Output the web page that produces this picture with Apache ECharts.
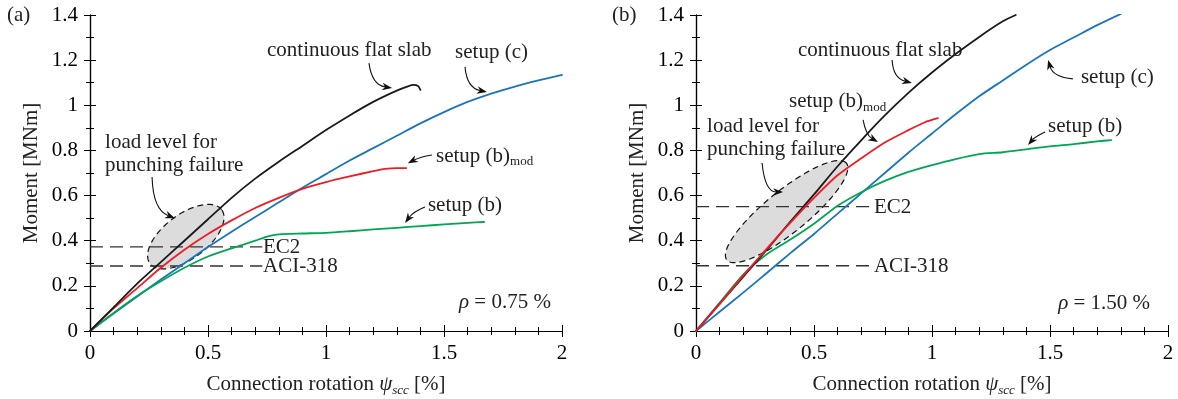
<!DOCTYPE html>
<html><head><meta charset="utf-8">
<script src="https://cdn.jsdelivr.net/npm/echarts@6/dist/echarts.min.js"></script>
<style>html,body{margin:0;padding:0;background:#fff}#c{width:1178px;height:399px}</style>
</head><body><div id="c"></div>
<script>
// ---------- DATA (rotation psi_scc [%], moment [MNm]) ----------
// Panel (a): rho = 0.75 %
const slabA = [[0,0],[0.1,0.105],[0.2,0.21],[0.3,0.305],[0.4,0.40],[0.5,0.495],[0.6,0.59],[0.7,0.675],[0.8,0.75],[0.9,0.82],[1.0,0.89],[1.1,0.955],[1.2,1.015],[1.3,1.065],[1.35,1.085],[1.37,1.09],[1.39,1.085],[1.40,1.068]];
const setupCA = [[0,0],[0.1,0.077],[0.2,0.153],[0.3,0.228],[0.4,0.30],[0.5,0.372],[0.6,0.44],[0.7,0.505],[0.8,0.57],[0.9,0.635],[1.0,0.695],[1.1,0.755],[1.2,0.81],[1.3,0.865],[1.4,0.92],[1.5,0.97],[1.6,1.015],[1.7,1.052],[1.8,1.083],[1.9,1.11],[2.0,1.135]];
const setupBmodA = [[0,0],[0.1,0.10],[0.2,0.19],[0.3,0.28],[0.4,0.36],[0.5,0.43],[0.6,0.49],[0.7,0.545],[0.8,0.59],[0.9,0.63],[1.0,0.66],[1.1,0.685],[1.2,0.708],[1.25,0.718],[1.3,0.722],[1.34,0.722]];
const setupBA = [[0,0],[0.1,0.08],[0.2,0.155],[0.3,0.22],[0.4,0.28],[0.5,0.33],[0.6,0.366],[0.7,0.40],[0.75,0.418],[0.8,0.428],[0.9,0.432],[1.0,0.435],[1.1,0.442],[1.2,0.45],[1.3,0.457],[1.4,0.465],[1.5,0.472],[1.6,0.479],[1.67,0.483]];
const ec2A = [[0,0.373],[0.73,0.373]];
const aciA = [[0,0.288],[0.73,0.288]];

// Panel (b): rho = 1.50 %
const slabB = [[0,0],[0.1,0.12],[0.2,0.24],[0.3,0.36],[0.4,0.485],[0.5,0.605],[0.6,0.73],[0.7,0.845],[0.8,0.955],[0.9,1.055],[1.0,1.145],[1.1,1.227],[1.2,1.303],[1.3,1.372],[1.355,1.40]];
const setupCB = [[0,0],[0.1,0.085],[0.2,0.17],[0.3,0.257],[0.4,0.345],[0.5,0.43],[0.6,0.52],[0.7,0.61],[0.8,0.70],[0.9,0.79],[1.0,0.875],[1.1,0.96],[1.2,1.04],[1.3,1.11],[1.4,1.18],[1.5,1.245],[1.6,1.30],[1.7,1.355],[1.8,1.405]];
const setupBmodB = [[0,0],[0.1,0.12],[0.2,0.245],[0.3,0.365],[0.4,0.48],[0.5,0.59],[0.6,0.69],[0.7,0.765],[0.8,0.835],[0.9,0.89],[0.97,0.925],[1.025,0.943]];
const setupBB = [[0,0],[0.1,0.125],[0.2,0.25],[0.3,0.34],[0.4,0.405],[0.5,0.475],[0.6,0.555],[0.7,0.615],[0.8,0.665],[0.9,0.705],[1.0,0.735],[1.1,0.762],[1.2,0.784],[1.3,0.792],[1.4,0.805],[1.5,0.818],[1.6,0.828],[1.7,0.84],[1.76,0.846]];
const ec2B = [[0,0.551],[0.735,0.551]];
const aciB = [[0,0.289],[0.735,0.289]];

// Axis ticks
const xRange = [0, 2], xStep = 0.5;
const yRange = [0, 1.4], yStep = 0.2;

// Annotation ellipses (data units: center, semi-axes in x-units, angle deg)
const ellipseA = {center:[0.406,0.418], radii:[0.19,0.094], angle:37};
const ellipseB = {center:[0.384,0.529], radii:[0.326,0.089], angle:39};

// Annotation arrows: [startX,startY, ctrlX,ctrlY, tipX,tipY]
const arrowsA = [
  [1.182,1.187, 1.195,1.09, 1.28,1.077],
  [1.589,1.170, 1.597,1.077, 1.682,1.059],
  [1.449,0.780, 1.398,0.771, 1.347,0.7435],
  [1.419,0.549, 1.369,0.527, 1.335,0.479],
  [0.263,0.682, 0.267,0.536, 0.360,0.50]
];
const arrowsB = [
  [0.831,1.201, 0.835,1.121, 0.915,1.099],
  [1.597,1.117, 1.513,1.125, 1.492,1.201],
  [0.708,0.935, 0.72,0.868, 0.771,0.837],
  [1.479,0.882, 1.436,0.86, 1.407,0.824],
  [0.28,0.744, 0.292,0.616, 0.369,0.616]
];
// Annotation texts: [x, y, text, align]
const textsA = [
  [0.75,1.245,'continuous flat slab','left'],
  [1.547,1.236,'setup (c)','left'],
  [1.466,0.775,'setup (b){s|mod}','left'],
  [1.432,0.558,'setup (b)','left'],
  [0.064,0.833,'load level for','left'],
  [0.064,0.735,'punching failure','left'],
  [0.733,0.372,'EC2','left'],
  [0.733,0.288,'ACI-318','left'],
  [1.953,0.128,'{i|ρ} = 0.75 %','right']
];
const textsB = [
  [0.432,1.245,'continuous flat slab','left'],
  [1.631,1.125,'setup (c)','left'],
  [0.394,1.015,'setup (b){s|mod}','left'],
  [1.492,0.904,'setup (b)','left'],
  [0.047,0.904,'load level for','left'],
  [0.047,0.802,'punching failure','left'],
  [0.754,0.548,'EC2','left'],
  [0.754,0.288,'ACI-318','left'],
  [1.924,0.124,'{i|ρ} = 1.50 %','right']
];

// ---------- STYLE ----------
const FONT = '"Liberation Serif","Times New Roman",serif';
const TXT = '#222';
const C_BLACK = '#1a1a1a', C_BLUE = '#1b75bc', C_RED = '#ee1c25', C_GREEN = '#00a651';
const RICH = {
  s: {fontSize: 13, fontFamily: FONT, color: TXT, fill: TXT, padding: [12,0,0,0]},
  i: {fontSize: 21, fontFamily: FONT, color: TXT, fill: TXT, fontStyle: 'italic'}
};

const chart = echarts.init(document.getElementById('c'), null, {renderer: 'canvas'});

function mainX(gi) {
  return {
    gridIndex: gi, type: 'value', min: xRange[0], max: xRange[1], interval: xStep,
    position: 'bottom',
    axisLine: {lineStyle: {color: '#000', width: 1.2}},
    axisTick: {inside: true, length: 6, lineStyle: {color: '#000', width: 1}},
    minorTick: {show: true, splitNumber: 5, length: 4, lineStyle: {color: '#000', width: 1}},
    splitLine: {show: false},
    axisLabel: {color: '#000', fontSize: 21, fontFamily: FONT, margin: 12},
    name: 'Connection rotation {i|ψ}{s|scc} [%]',
    nameLocation: 'middle', nameGap: 41,
    nameTextStyle: {color: TXT, fontSize: 21, fontFamily: FONT,
      rich: {i: {fontSize: 21, fontFamily: FONT, color: TXT, fontStyle: 'italic'},
             s: {fontSize: 13, fontFamily: FONT, color: TXT, fontStyle: 'italic', padding: [12,0,0,0]}}}
  };
}
function frameX(gi) {
  return {
    gridIndex: gi, type: 'value', min: xRange[0], max: xRange[1], interval: xStep, position: 'top',
    axisLine: {lineStyle: {color: '#000', width: 1.2}},
    axisTick: {inside: true, length: 6, lineStyle: {color: '#000'}},
    minorTick: {show: true, splitNumber: 5, length: 4, lineStyle: {color: '#000'}},
    splitLine: {show: false}, axisLabel: {show: false}
  };
}
function mainY(gi) {
  return {
    gridIndex: gi, type: 'value', min: yRange[0], max: yRange[1], interval: yStep, position: 'left',
    axisLine: {show: true, lineStyle: {color: '#000', width: 1.2}},
    axisTick: {show: true, inside: true, length: 6, lineStyle: {color: '#000'}},
    minorTick: {show: true, splitNumber: 2, length: 4, lineStyle: {color: '#000'}},
    splitLine: {show: false},
    axisLabel: {color: '#000', fontSize: 21, fontFamily: FONT, margin: 12},
    name: 'Moment [MNm]', nameLocation: 'middle', nameRotate: 90, nameGap: 48,
    nameTextStyle: {color: TXT, fontSize: 21, fontFamily: FONT}
  };
}
function frameY(gi) {
  return {
    gridIndex: gi, type: 'value', min: yRange[0], max: yRange[1], interval: yStep, position: 'right',
    axisLine: {show: true, lineStyle: {color: '#000', width: 1.2}},
    axisTick: {show: true, inside: true, length: 6, lineStyle: {color: '#000'}},
    minorTick: {show: true, splitNumber: 2, length: 4, lineStyle: {color: '#000'}},
    splitLine: {show: false}, axisLabel: {show: false}
  };
}

function lineSeries(data, color, xi, yi, z) {
  return {type: 'line', data: data, xAxisIndex: xi, yAxisIndex: yi, showSymbol: false, symbol: 'none',
    smooth: 0.25, lineStyle: {color: color, width: 1.8, join: 'round', cap: 'round'}, z: z || 5, silent: true, animation: false};
}
function dashSeries(data, xi, yi) {
  return {type: 'line', data: data, xAxisIndex: xi, yAxisIndex: yi, showSymbol: false, symbol: 'none',
    lineStyle: {color: '#333', width: 1.3, type: [13, 7]}, z: 4, silent: true, animation: false};
}
function ellipseSeries(e, xi, yi) {
  return {type: 'custom', xAxisIndex: xi, yAxisIndex: yi, z: 2, silent: true, animation: false, clip: false,
    data: [[e.center[0], e.center[1]]], encode: {x: 0, y: 1},
    renderItem: function (params, api) {
      const c = api.coord(e.center);
      const s = api.size([1, 1]);
      const a = e.radii[0] * s[0], b = e.radii[1] * s[0];
      const th = e.angle * Math.PI / 180;
      const pts = [];
      for (let i = 0; i < 96; i++) {
        const t = i / 96 * 2 * Math.PI;
        const ex = a * Math.cos(t), ey = b * Math.sin(t);
        pts.push([c[0] + ex * Math.cos(th) - ey * Math.sin(th), c[1] - (ex * Math.sin(th) + ey * Math.cos(th))]);
      }
      return {type: 'polygon', shape: {points: pts},
        style: {fill: '#dcdcdc', stroke: '#111', lineWidth: 1.2, lineDash: [6, 4]}};
    }};
}
function arrowSeries(list, xi, yi) {
  return {type: 'custom', xAxisIndex: xi, yAxisIndex: yi, z: 8, silent: true, animation: false, clip: false,
    data: list.map(a => [a[4], a[5]]), encode: {x: 0, y: 1},
    renderItem: function (params, api) {
      const a = list[params.dataIndex];
      const p0 = api.coord([a[0], a[1]]), p1 = api.coord([a[2], a[3]]), p2 = api.coord([a[4], a[5]]);
      const dx = p2[0] - p1[0], dy = p2[1] - p1[1], L = Math.hypot(dx, dy) || 1;
      const ux = dx / L, uy = dy / L, hl = 10, hw = 3.8;
      const base = [p2[0] - ux * hl, p2[1] - uy * hl];
      const notch = [p2[0] - ux * hl * 0.7, p2[1] - uy * hl * 0.7];
      return {type: 'group', children: [
        {type: 'bezierCurve', shape: {x1: p0[0], y1: p0[1], cpx1: p1[0], cpy1: p1[1], x2: notch[0], y2: notch[1]},
          style: {stroke: '#111', fill: 'none', lineWidth: 1.1}},
        {type: 'polygon', shape: {points: [p2, [base[0] - uy * hw, base[1] + ux * hw], notch, [base[0] + uy * hw, base[1] - ux * hw]]},
          style: {fill: '#111'}}
      ]};
    }};
}
function textSeries(list, xi, yi) {
  return {type: 'custom', xAxisIndex: xi, yAxisIndex: yi, z: 9, silent: true, animation: false, clip: false,
    data: list.map(t => [t[0], t[1]]), encode: {x: 0, y: 1},
    renderItem: function (params, api) {
      const t = list[params.dataIndex];
      const p = api.coord([t[0], t[1]]);
      return {type: 'text', x: p[0], y: p[1],
        style: {text: t[2], fontSize: 21, fontFamily: FONT, fill: TXT, align: t[3], verticalAlign: 'middle', rich: RICH}};
    }};
}

const option = {
  animation: false,
  backgroundColor: '#fff',
  grid: [
    {left: 90, top: 15, width: 472, height: 316, outerBoundsMode: 'none', containLabel: false},
    {left: 696, top: 15, width: 472, height: 316, outerBoundsMode: 'none', containLabel: false}
  ],
  xAxis: [mainX(0), frameX(0), mainX(1), frameX(1)],
  yAxis: [mainY(0), frameY(0), mainY(1), frameY(1)],
  graphic: [
    {type: 'text', left: 7, top: 5, style: {text: '(a)', fontSize: 21, fontFamily: FONT, fill: TXT}},
    {type: 'text', left: 612, top: 5, style: {text: '(b)', fontSize: 21, fontFamily: FONT, fill: TXT}}
  ],
  series: [
    ellipseSeries(ellipseA, 0, 0),
    dashSeries(ec2A, 0, 0), dashSeries(aciA, 0, 0),
    lineSeries(setupCA, C_BLUE, 0, 0, 5),
    lineSeries(setupBA, C_GREEN, 0, 0, 5),
    lineSeries(setupBmodA, C_RED, 0, 0, 6),
    lineSeries(slabA, C_BLACK, 0, 0, 7),
    arrowSeries(arrowsA, 0, 0),
    textSeries(textsA, 0, 0),

    ellipseSeries(ellipseB, 2, 2),
    dashSeries(ec2B, 2, 2), dashSeries(aciB, 2, 2),
    lineSeries(setupCB, C_BLUE, 2, 2, 5),
    lineSeries(setupBB, C_GREEN, 2, 2, 5),
    lineSeries(slabB, C_BLACK, 2, 2, 6),
    lineSeries(setupBmodB, C_RED, 2, 2, 7),
    arrowSeries(arrowsB, 2, 2),
    textSeries(textsB, 2, 2)
  ]
};
chart.setOption(option);
</script></body></html>
